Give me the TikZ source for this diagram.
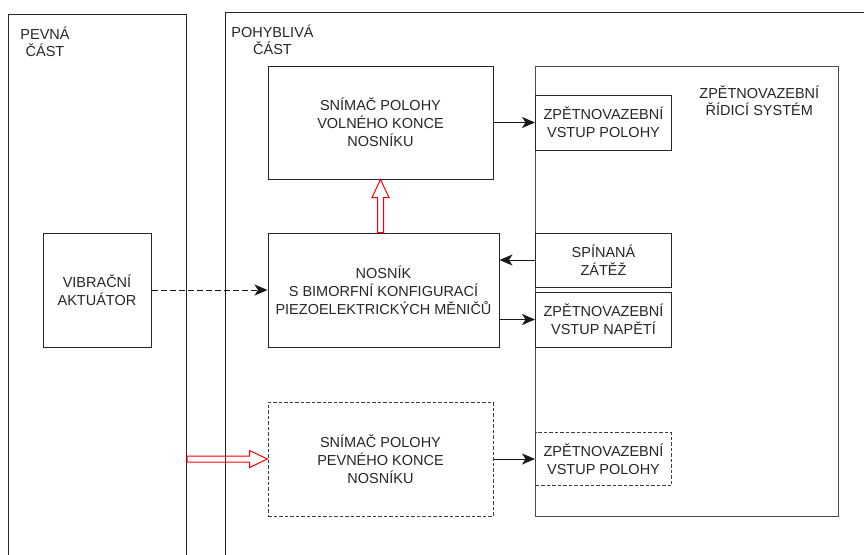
\documentclass[tikz,border=0pt]{standalone}
\usepackage{fontspec}
\setmainfont{Liberation Sans}
\usetikzlibrary{arrows.meta,calc}

% outlined (hollow) arrow between two named coordinates
\newcommand{\hollowarrow}[2]{%
  \coordinate (neck) at ($(#2)!18pt!(#1)$);
  \draw[hollow] ($(#1)!3pt!90:(#2)$) -- ($(neck)!3pt!90:(#2)$) -- ($(neck)!8.5pt!90:(#2)$)
    -- (#2) -- ($(neck)!8.5pt!-90:(#2)$) -- ($(neck)!3pt!-90:(#2)$) -- ($(#1)!3pt!-90:(#2)$) -- cycle;}

\begin{document}
\begin{tikzpicture}[x=1pt, y=-1pt,
    box/.style={draw=black!85, line width=1pt, align=center, inner sep=0pt,
                font=\fontsize{14.5}{18}\selectfont, text=black!85},
    ghost/.style={box, draw=black!75, dash pattern=on 3.5pt off 2pt},
    caption/.style={align=center, inner sep=0pt, font=\fontsize{14.5}{17}\selectfont, text=black!85},
    link/.style={line width=1pt, draw=black!90, -{Stealth[length=13pt,width=11pt,inset=3.5pt]}},
    hollow/.style={draw=red, line width=1pt, line join=miter}]

    \useasboundingbox (0,0) rectangle (864,554);
    \clip (0,0) rectangle (864,554);

    % the two parts, both run off the page
    \node[box, minimum width=178pt, minimum height=560pt, anchor=north west] (fixed) at (8,14) {};
    \node[box, minimum width=660pt, minimum height=560pt, anchor=north west] (moving) at (225,12) {};
    \node[caption] (fixedlbl) at (45,41.5) {PEVNÁ\\ČÁST};
    \node[caption] (movinglbl) at (272.5,40) {POHYBLIVÁ\\ČÁST};

    % blocks
    \node[box, minimum width=108pt, minimum height=114pt] (actuator) at (97,290) {VIBRAČNÍ\\AKTUÁTOR};
    \node[box, minimum width=225pt, minimum height=113pt] (sensFree) at (380.5,122.5) {SNÍMAČ POLOHY\\VOLNÉHO KONCE\\NOSNÍKU};
    \node[box, minimum width=231pt, minimum height=114pt] (beam) at (383.5,290) {NOSNÍK\\S BIMORFNÍ KONFIGURACÍ\\PIEZOELEKTRICKÝCH MĚNIČŮ};
    \node[ghost, minimum width=225pt, minimum height=114pt] (sensFixed) at (380.5,459) {SNÍMAČ POLOHY\\PEVNÉHO KONCE\\NOSNÍKU};

    % control system and its inputs
    \node[box, draw=black!70, line width=1.4pt, minimum width=303pt, minimum height=450pt, anchor=north west] (control) at (535,66) {};
    \node[caption, anchor=north east] (controllbl) at ([xshift=-20pt, yshift=-20pt]control.north east) {ZPĚTNOVAZEBNÍ\\ŘÍDICÍ SYSTÉM};
    \node[box, minimum width=136pt, minimum height=55pt, anchor=west] (fbPosFree) at (control.west |- sensFree) {ZPĚTNOVAZEBNÍ\\VSTUP POLOHY};
    \node[box, minimum width=136pt, minimum height=54pt, anchor=north west] (load) at (control.west |- beam.north) {SPÍNANÁ\\ZÁTĚŽ};
    \node[box, minimum width=136pt, minimum height=55pt, anchor=south west] (fbVolt) at (control.west |- beam.south) {ZPĚTNOVAZEBNÍ\\VSTUP NAPĚTÍ};
    \node[ghost, minimum width=136pt, minimum height=53pt, anchor=west] (fbPosFixed) at (control.west |- sensFixed) {ZPĚTNOVAZEBNÍ\\VSTUP POLOHY};

    % signals
    \draw[link] (sensFree) -- (fbPosFree);
    \draw[link] (load.west) -- (load.west -| beam.east);
    \draw[link] (beam.east |- fbVolt.west) -- (fbVolt.west);
    \draw[link, dash pattern=on 6pt off 3pt] (actuator) -- (beam);
    \draw[link] (sensFixed) -- (fbPosFixed);

    % mechanical coupling
    \coordinate (beamtop) at (sensFree.south |- beam.north);
    \coordinate (basetail) at (fixed.east |- sensFixed.west);
    \hollowarrow{beamtop}{sensFree.south}
    \hollowarrow{basetail}{sensFixed.west}
\end{tikzpicture}
\end{document}
